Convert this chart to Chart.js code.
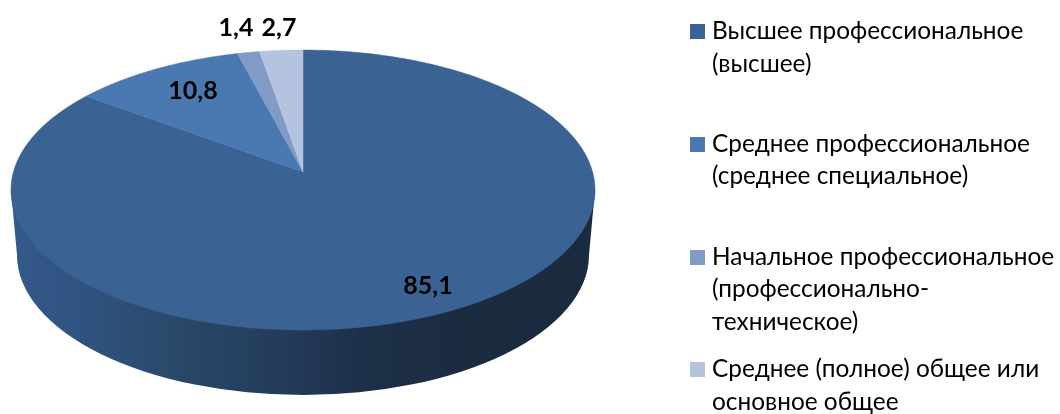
<!DOCTYPE html>
<html>
<head>
<meta charset="utf-8">
<script src="https://cdn.jsdelivr.net/npm/chart.js@4"></script>
<style>
  html, body { margin: 0; padding: 0; background: #fff; }
  canvas { display: block; }
</style>
</head>
<body>
<canvas id="pie" width="1060" height="414"></canvas>
<script>
// Data
const categories = [
  ['Высшее профессиональное', '(высшее)'],
  ['Среднее профессиональное', '(среднее специальное)'],
  ['Начальное профессиональное', '(профессионально-', 'техническое)'],
  ['Среднее (полное) общее или', 'основное общее'],
];
const shares = [85.1, 10.8, 1.4, 2.7];
const shareLabels = ['85,1', '10,8', '1,4', '2,7'];
const sliceColors = ['#3a6394', '#4a79b2', '#7f9bc6', '#b5c4de'];

// Layout of the tilted disc (canvas px)
const FONT = "Lato, 'Open Sans', sans-serif";
const disc = { x: 303, y: 172, a: 289.6, b: 137.7, k: -0.1286 };
const wall = { x: 303, y: 255, rx: 286, ry: 140, topY: 190, topRx: 292 };
const wallStops = [
  [0.0, '#33598a'], [0.12, '#2f5380'], [0.28, '#2a4869'],
  [0.45, '#243c5c'], [0.6, '#1e3049'], [0.8, '#1a2b40'], [1.0, '#1a2b40'],
];
const labelSpots = [[428, 294], [193, 99], [236, 36], [279, 36]];
const legendX = 712;
const legendBoxX = 690;
const legendBaselines = [[39, 72], [152, 184], [265, 297, 330], [377, 410]];

// Perspective map: a point on the unit circle to the tilted disc
function project(u, v) {
  const w = 1 + disc.k * v;
  return [disc.x + disc.a * u / w, disc.y + disc.b * v / w];
}

function drawWall(ctx) {
  const g = ctx.createLinearGradient(wall.x - wall.rx, 0, wall.x + wall.rx, 0);
  wallStops.forEach(([p, c]) => g.addColorStop(p, c));
  ctx.beginPath();
  ctx.moveTo(wall.x - wall.topRx, wall.topY);
  ctx.lineTo(wall.x - wall.rx, wall.y);
  ctx.ellipse(wall.x, wall.y, wall.rx, wall.ry, 0, Math.PI, 0, true);
  ctx.lineTo(wall.x + wall.topRx, wall.topY);
  ctx.closePath();
  ctx.fillStyle = g;
  ctx.fill();
}

function drawSlice(ctx, arc, color) {
  const steps = Math.max(8, Math.ceil((arc.endAngle - arc.startAngle) * 60));
  ctx.beginPath();
  ctx.moveTo(disc.x, disc.y);
  for (let i = 0; i <= steps; i++) {
    const t = arc.startAngle + (arc.endAngle - arc.startAngle) * i / steps;
    const [x, y] = project(Math.cos(t), Math.sin(t));
    ctx.lineTo(x, y);
  }
  ctx.closePath();
  ctx.fillStyle = color;
  ctx.strokeStyle = color;
  ctx.lineWidth = 0.5;
  ctx.fill();
  ctx.stroke();
}

const tiltedPie = {
  id: 'tiltedPie',
  // Replace the flat arcs with the tilted disc, angles still come from Chart.js
  beforeDatasetsDraw(chart) {
    const ctx = chart.ctx;
    const arcs = chart.getDatasetMeta(0).data;
    ctx.save();
    drawWall(ctx);
    arcs.forEach((arc, i) => drawSlice(ctx, arc, sliceColors[i]));
    ctx.restore();
    return false;
  },
  afterDraw(chart) {
    const ctx = chart.ctx;
    ctx.save();
    ctx.textBaseline = 'alphabetic';

    // Value labels
    ctx.fillStyle = '#000';
    ctx.textAlign = 'center';
    ctx.font = '700 25px ' + FONT;
    shareLabels.forEach((t, i) => ctx.fillText(t, labelSpots[i][0], labelSpots[i][1]));

    // Legend
    ctx.textAlign = 'left';
    ctx.font = '400 24.4px ' + FONT;
    categories.forEach((lines, i) => {
      ctx.fillStyle = sliceColors[i];
      ctx.fillRect(legendBoxX, legendBaselines[i][0] - 15, 15, 15);
      ctx.fillStyle = '#000';
      lines.forEach((t, j) => ctx.fillText(t, legendX, legendBaselines[i][j]));
    });
    ctx.restore();
  }
};

new Chart(document.getElementById('pie'), {
  type: 'pie',
  data: {
    labels: categories.map(c => c.join(' ')),
    datasets: [{ data: shares, backgroundColor: sliceColors, borderWidth: 0 }]
  },
  options: {
    responsive: false,
    animation: false,
    plugins: { legend: { display: false }, tooltip: { enabled: false } }
  },
  plugins: [tiltedPie]
});
</script>
</body>
</html>
